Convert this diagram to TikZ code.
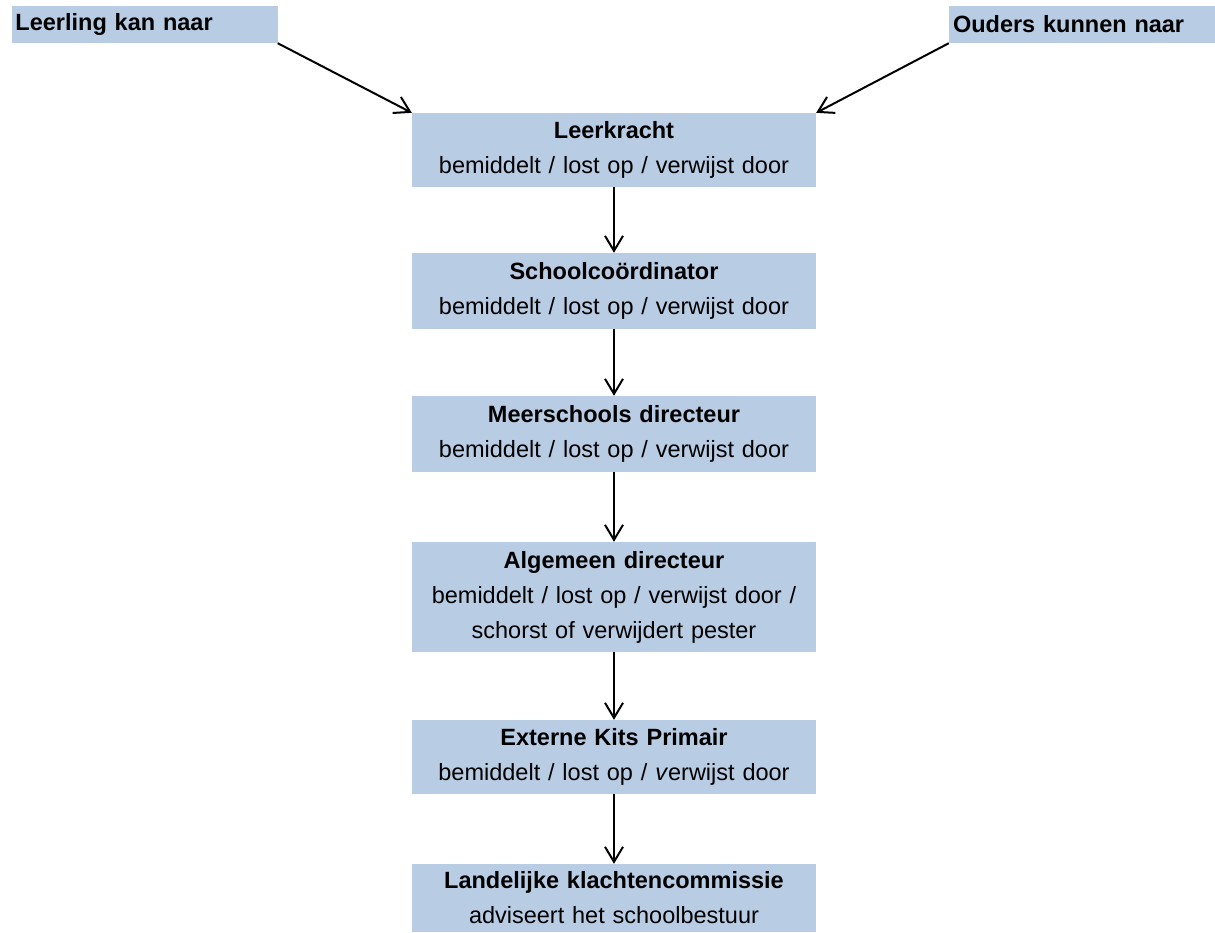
\documentclass[tikz,border=0pt]{standalone}
\usepackage{fontspec}
\setmainfont{Liberation Sans}
\usetikzlibrary{arrows.meta}
\definecolor{boxblue}{HTML}{B8CCE4}

\begin{document}
\begin{tikzpicture}[
    x			= 1pt,
    y			= -1pt,
    >={Straight Barb[length=15pt, width=18pt, line width=2pt]},
    txt/.style		= {font=\fontsize{23.5}{35}\selectfont},
    startbox/.style	= {txt, fill=boxblue, inner xsep=4pt, inner ysep=0pt,
                           text width=258pt, align=left, minimum height=37pt},
    stepbox/.style	= {txt, fill=boxblue, inner xsep=2pt, inner ysep=0pt,
                           text width=400pt, align=center},
    link/.style		= {->, line width=2pt}
  ]
\useasboundingbox (0,0) rectangle (1215,932);
% start boxes
\node[startbox] (leerling) at (144.5,24.5) {\textbf{Leerling kan naar}};
\node[startbox] (ouders) at (1082,24.5) {\textbf{Ouders kunnen naar}};
% chain of steps
\node[stepbox, minimum height=74pt] (leerkracht) at (614,150)
  {\textbf{Leerkracht}\\ bemiddelt / lost op / verwijst door};
\node[stepbox, minimum height=76pt] (coordinator) at (614,291)
  {\textbf{Schoolcoördinator}\\ bemiddelt / lost op / verwijst door};
\node[stepbox, minimum height=76pt] (meerschools) at (614,434)
  {\textbf{Meerschools directeur}\\ bemiddelt / lost op / verwijst door};
\node[stepbox, minimum height=110pt] (algemeen) at (614,597)
  {\textbf{Algemeen directeur}\\ bemiddelt / lost op / verwijst door /\\ schorst of verwijdert pester};
\node[stepbox, minimum height=74pt] (extern) at (614,757)
  {\textbf{Externe Kits Primair}\\ bemiddelt / lost op / \textit{v}erwijst door};
\node[stepbox, minimum height=68pt] (landelijk) at (614,898)
  {\textbf{Landelijke klachtencommissie}\\ adviseert het schoolbestuur};
% arrows into the chain
\draw[link] (leerling.south east) -- (leerkracht.north west);
\draw[link] (ouders.south west) -- (leerkracht.north east);
% arrows down the chain
\draw[link] (leerkracht) -- (coordinator);
\draw[link] (coordinator) -- (meerschools);
\draw[link] (meerschools) -- (algemeen);
\draw[link] (algemeen) -- (extern);
\draw[link] (extern) -- (landelijk);
%
\end{tikzpicture}
\end{document}
